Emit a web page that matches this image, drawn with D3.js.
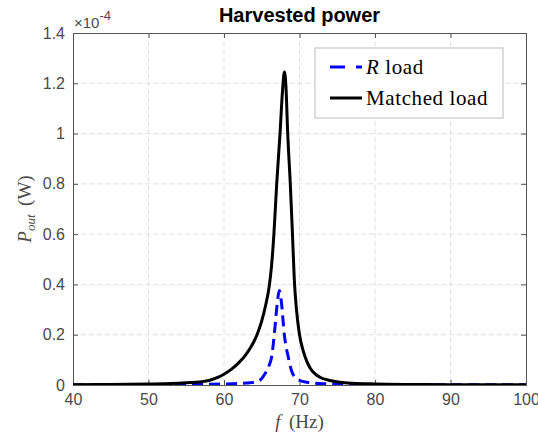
<!DOCTYPE html>
<html><head><meta charset="utf-8">
<script src="https://cdn.jsdelivr.net/npm/d3@7"></script>
<style>body{margin:0;background:#fff}svg{display:block}</style>
</head><body>
<svg id="chart" width="538" height="438"></svg>
<script>
// Frequency (Hz) and output power (x1e-4 W)
const freqMatched = [40,45,50,53,55,57,58,59,60,61,62,63,63.5,64,64.5,65,65.5,66,66.3,66.62,66.98,67.42,67.75,68.0,68.2,68.44,68.78,69.05,69.31,69.6,70.0,70.5,71.0,71.4,72,72.7,74,75.4,77,80,85,90,100];
const powerMatched = [0.001,0.002,0.004,0.006,0.009,0.013,0.018,0.028,0.043,0.063,0.09,0.125,0.148,0.175,0.21,0.255,0.315,0.395,0.475,0.605,0.80,1.0,1.17,1.245,1.19,1.0,0.8,0.614,0.42,0.3,0.2,0.135,0.092,0.068,0.046,0.031,0.018,0.011,0.007,0.004,0.002,0.001,0.0005];
const freqR = [40,50,55,60,62,63.45,64.2,64.8,65.43,66.0,66.3,66.66,67.0,67.33,67.6,67.99,68.52,69.1,70.07,71,73.1,80,90,100];
const powerR = [0.0005,0.001,0.002,0.004,0.006,0.009,0.013,0.02,0.045,0.08,0.11,0.2,0.31,0.376,0.33,0.2,0.11,0.045,0.018,0.011,0.005,0.002,0.001,0.0005];
const xTicks = [40,50,60,70,80,90,100];
const yTicks = [0,0.2,0.4,0.6,0.8,1,1.2,1.4];
const titleText = "Harvested power";

const svg = d3.select("#chart");
const L = 73, R = 526, T = 33, B = 385;
const x = d3.scaleLinear().domain([40,100]).range([L,R]);
const y = d3.scaleLinear().domain([0,1.4]).range([B,T]);
const axisColor = "#555";
const textColor = "#4a4a4a";

// grid
const g = svg.append("g");
g.selectAll("line.gx").data(xTicks.slice(1,-1)).join("line")
  .attr("x1",d=>x(d)).attr("x2",d=>x(d)).attr("y1",T).attr("y2",B)
  .attr("stroke","#e0e0e0").attr("stroke-width",1).attr("stroke-dasharray","5,3");
g.selectAll("line.gy").data(yTicks.slice(1,-1)).join("line")
  .attr("y1",d=>y(d)).attr("y2",d=>y(d)).attr("x1",L).attr("x2",R)
  .attr("stroke","#e0e0e0").attr("stroke-width",1).attr("stroke-dasharray","5,3");

// axes
const xAxis = d3.axisBottom(x).tickValues(xTicks).tickSize(-5).tickPadding(9).tickFormat(d3.format("d"));
const yAxis = d3.axisLeft(y).tickValues(yTicks).tickSize(-5).tickPadding(8).tickFormat(d=> d===0?"0":d3.format(".1f")(d).replace(/\.0$/,""));
const xa = svg.append("g").attr("transform",`translate(0,${B})`).call(xAxis);
const ya = svg.append("g").attr("transform",`translate(${L},0)`).call(yAxis);
[xa,ya].forEach(a=>{
  a.select(".domain").attr("stroke",axisColor);
  a.selectAll(".tick line").attr("stroke",axisColor);
  a.selectAll("text").attr("fill",textColor).attr("font-family","'Liberation Sans', Arial, sans-serif").attr("font-size",16);
});
// top/right ticks and box
const xt = svg.append("g").attr("transform",`translate(0,${T})`).call(d3.axisTop(x).tickValues(xTicks).tickSize(-5).tickFormat(""));
const yr = svg.append("g").attr("transform",`translate(${R},0)`).call(d3.axisRight(y).tickValues(yTicks).tickSize(-5).tickFormat(""));
[xt,yr].forEach(a=>{a.select(".domain").attr("stroke",axisColor);a.selectAll(".tick line").attr("stroke",axisColor);});

// lines
svg.append("clipPath").attr("id","clip").append("rect").attr("x",L).attr("y",T-5).attr("width",R-L).attr("height",B-T+5);
const line = d3.line().x(d=>x(d[0])).y(d=>y(d[1])).curve(d3.curveMonotoneX);
svg.append("path").datum(d3.zip(freqR,powerR)).attr("d",line).attr("fill","none")
  .attr("stroke","#0000ff").attr("stroke-width",3).attr("stroke-dasharray","11,6").attr("clip-path","url(#clip)");
svg.append("path").datum(d3.zip(freqMatched,powerMatched)).attr("d",line).attr("fill","none")
  .attr("stroke","#000").attr("stroke-width",3).attr("stroke-linejoin","round").attr("clip-path","url(#clip)");

// exponent
const ex = svg.append("text").attr("x",L+1).attr("y",28).attr("fill",textColor)
  .attr("font-family","'Liberation Sans', Arial, sans-serif").attr("font-size",15);
ex.append("tspan").text("\u00d710");
ex.append("tspan").attr("dy",-8).attr("font-size",13).text("-4");

// title
svg.append("text").attr("x",(L+R)/2).attr("y",22).attr("text-anchor","middle")
  .attr("font-family","'Liberation Sans', Arial, sans-serif").attr("font-weight","bold").attr("font-size",20)
  .attr("fill","#000").text(titleText);

// axis labels
const serif = "'Liberation Serif', 'Times New Roman', serif";
const xl = svg.append("text").attr("x",(L+R)/2).attr("y",428).attr("text-anchor","middle")
  .attr("font-family",serif).attr("font-size",19).attr("fill",textColor);
xl.append("tspan").attr("font-style","italic").text("f");
xl.append("tspan").text("\u2009 (Hz)");
const yl = svg.append("text").attr("transform",`translate(31,${(T+B)/2}) rotate(-90)`).attr("text-anchor","middle")
  .attr("font-family",serif).attr("font-size",19).attr("fill",textColor);
yl.append("tspan").attr("font-style","italic").text("P");
yl.append("tspan").attr("font-style","italic").attr("font-size",13).attr("dy",4).text("out");
yl.append("tspan").attr("dy",-4).text("\u2009 (W)");

// legend
const lg = svg.append("g");
lg.append("rect").attr("x",315).attr("y",48).attr("width",188).attr("height",70)
  .attr("fill","#fff").attr("stroke","#bbb").attr("stroke-width",1);
lg.append("line").attr("x1",330).attr("x2",362).attr("y1",67).attr("y2",67)
  .attr("stroke","#0000ff").attr("stroke-width",3).attr("stroke-dasharray","15,11");
lg.append("line").attr("x1",330).attr("x2",362).attr("y1",98).attr("y2",98)
  .attr("stroke","#000").attr("stroke-width",3);
const t1 = lg.append("text").attr("x",366).attr("y",74).attr("font-family",serif).attr("font-size",21)
  .attr("letter-spacing",0.6).attr("fill","#000");
t1.append("tspan").attr("font-style","italic").text("R");
t1.append("tspan").text(" load");
lg.append("text").attr("x",366).attr("y",105).attr("font-family",serif).attr("font-size",21)
  .attr("letter-spacing",0.6).attr("fill","#000").text("Matched load");
</script>
</body></html>
